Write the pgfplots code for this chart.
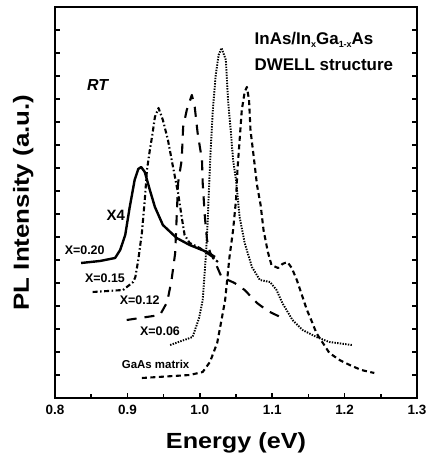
\documentclass[border=0pt]{standalone}
\usepackage{fontspec}
\setmainfont{Liberation Sans}
\usepackage{pgfplots}
\pgfplotsset{compat=1.18}

\newcommand{\fs}[1]{\bfseries\fontsize{#1}{#1}\selectfont}

\begin{document}
\begin{tikzpicture}
\useasboundingbox (-55bp,-67bp) rectangle (371bp,398bp);
\begin{axis}[
  scale only axis, width=362bp, height=391bp,
  xmin=0.8, xmax=1.3, ymin=0, ymax=391,
  axis line style={line width=2.2bp},
  xtick={0.8,0.9,1.0,1.1,1.2,1.3},
  minor xtick={0.85,0.95,1.05,1.15,1.25},
  ytick={23,46,69,92,115,138,161,184,207,230,253,276,299,322,345,368},
  yticklabels={},
  tick align=inside, xtick pos=bottom, ytick pos=both,
  major tick length=5bp, minor tick length=4bp,
  every tick/.style={line width=1.6bp, black},
  xticklabel style={font=\fs{13.5}, yshift=-4bp},
  /pgf/number format/.cd, fixed, fixed zerofill, precision=1, assume math mode=true,
  /pgfplots/.cd,
  xlabel={\scalebox{1.15}[1]{Energy (eV)}},
  xlabel style={font=\fs{22}, at={(axis description cs:0.5,-0.115)}, anchor=center},
  ylabel={\scalebox{1.18}[1]{PL Intensity (a.u.)}},
  ylabel style={font=\fs{22}, at={(axis description cs:-0.088,0.5)}, anchor=center},
  every axis plot/.append style={line width=2.1bp, black, line join=round},
]
% X=0.20 (x4), solid
\addplot[line width=2.4bp] coordinates {
(0.836,135) (0.862,137) (0.876,139) (0.883,140) (0.890,148) (0.897,163)
(0.903,190) (0.910,218) (0.915,229) (0.919,231) (0.924,226) (0.931,208)
(0.938,191) (0.949,173) (0.968,160) (0.986,153) (1.010,146) (1.021,141)
};
% X=0.15, dash-dot
\addplot[dash pattern=on 5bp off 2.5bp on 1.5bp off 2.5bp] coordinates {
(0.852,106) (0.894,108) (0.908,116) (0.911,121) (0.915,138) (0.920,165)
(0.924,198) (0.927,228) (0.931,248) (0.934,261) (0.938,281) (0.943,290)
(0.949,278) (0.956,258) (0.963,231) (0.970,205) (0.975,181) (0.979,163)
(0.986,155) (1.000,150) (1.014,143) (1.025,136)
};
% X=0.12, long dash
\addplot[dash pattern=on 10bp off 8bp] coordinates {
(0.899,78) (0.945,83) (0.955,96) (0.961,118) (0.966,145) (0.970,215)
(0.975,238) (0.977,271) (0.982,288) (0.989,303) (0.993,291) (0.997,265)
(1.003,238) (1.004,215) (1.007,181) (1.010,158) (1.014,146) (1.021,136)
(1.030,121) (1.048,115) (1.062,108) (1.079,95) (1.094,87) (1.114,80)
};
% X=0.06, dotted
\addplot[line width=1.9bp, dash pattern=on 1.4bp off 1.3bp] coordinates {
(0.959,53) (0.990,61) (0.999,80) (1.004,98) (1.007,128) (1.009,150)
(1.011,178) (1.012,198) (1.015,248) (1.018,288) (1.022,323) (1.026,343)
(1.030,350) (1.036,338) (1.039,298) (1.043,265) (1.046,238) (1.050,218)
(1.055,181) (1.062,155) (1.072,131) (1.083,118) (1.097,116) (1.106,108)
(1.114,95) (1.128,78) (1.142,68) (1.161,61) (1.179,56) (1.210,53)
};
% GaAs matrix, short dash
\addplot[dash pattern=on 5bp off 3.5bp] coordinates {
(0.920,20) (0.986,23) (1.004,26) (1.014,36) (1.024,55) (1.030,78)
(1.035,98) (1.041,141) (1.046,168) (1.050,198) (1.052,228) (1.055,258)
(1.058,288) (1.062,306) (1.065,311) (1.068,298) (1.070,268) (1.075,238)
(1.079,213) (1.084,193) (1.088,168) (1.094,146) (1.099,133) (1.108,130)
(1.114,134) (1.121,136) (1.127,130) (1.134,118) (1.141,103) (1.148,88)
(1.155,76) (1.161,65) (1.170,55) (1.179,45) (1.193,38) (1.207,33)
(1.223,28) (1.241,25)
};
\node[anchor=west, font=\fs{17}] at (axis cs:1.071,358)
  {InAs/In\raisebox{-0.35ex}{\fs{9}x}Ga\raisebox{-0.35ex}{\fs{9}1-x}As};
\node[anchor=west, font=\fs{17}] at (axis cs:1.071,333) {DWELL structure};
\node[font=\fs{16}\itshape] at (axis cs:0.859,313) {RT};
\node[font=\fs{15}] at (axis cs:0.884,183) {X4};
\node[font=\fs{12.5}] at (axis cs:0.841,148) {X=0.20};
\node[font=\fs{12.5}] at (axis cs:0.869,120) {X=0.15};
\node[font=\fs{12.5}] at (axis cs:0.917,98) {X=0.12};
\node[font=\fs{12.5}] at (axis cs:0.945,67) {X=0.06};
\node[font=\fs{11.5}] at (axis cs:0.939,34) {GaAs matrix};
\end{axis}
\end{tikzpicture}
\end{document}
